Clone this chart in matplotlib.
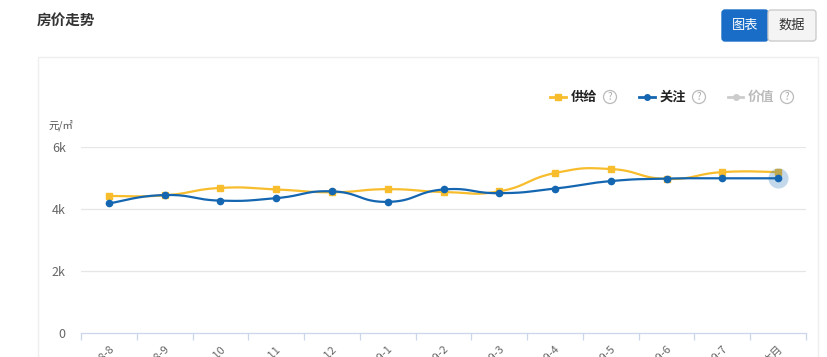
import numpy as np
import matplotlib
matplotlib.use("Agg")
import matplotlib.pyplot as plt
from matplotlib.patches import Rectangle, Circle, FancyBboxPatch

plt.rcParams['font.family'] = ['Noto Sans CJK SC', 'DejaVu Sans']

# ---- data ----
categories = ["2018-8", "2018-9", "2018-10", "2018-11", "2018-12", "2019-1", "2019-2",
              "2019-3", "2019-4", "2019-5", "2019-6", "2019-7", "本月"]
supply = [4420, 4440, 4680, 4630, 4540, 4640, 4550, 4570, 5160, 5290, 4970, 5190, 5190]
attention = [4180, 4450, 4270, 4350, 4570, 4230, 4630, 4510, 4660, 4900, 4980, 4990, 4990]
y_ticks = [0, 2000, 4000, 6000]
y_tick_labels = ["0", "2k", "4k", "6k"]
legend_names = ["供给", "关注", "价值"]

YELLOW = "#F8BD2C"
BLUE = "#1466B1"
GREY = "#CCCCCC"

W, H = 827, 357
fig = plt.figure(figsize=(W / 100, H / 100), dpi=100)

# overlay axes in pixel coordinates for decorations
ov = fig.add_axes([0, 0, 1, 1], zorder=0)
ov.set_xlim(0, W)
ov.set_ylim(H, 0)
ov.axis("off")

# panel box
ov.add_patch(Rectangle((38, 57), 780, 320, facecolor="white", edgecolor="#EEEEEE", lw=1))
# title
ov.text(37, 20, "房价走势", fontsize=10.5, fontweight="bold", color="#333333", va="center", ha="left")
# buttons
ov.add_patch(FancyBboxPatch((722, 10), 46, 31, boxstyle="round,pad=0,rounding_size=3",
                            facecolor="#1A6DC6", edgecolor="#1A6DC6", lw=1))
ov.add_patch(FancyBboxPatch((768, 10), 48, 31, boxstyle="round,pad=0,rounding_size=3",
                            facecolor="#F4F4F4", edgecolor="#CCCCCC", lw=1))
ov.text(745, 25.5, "图表", fontsize=9.5, color="white", ha="center", va="center")
ov.text(792, 25.5, "数据", fontsize=9.5, color="#333333", ha="center", va="center")

# legend
leg_items = [(550, 566, YELLOW, "s", legend_names[0], "#222222", "bold", 610),
             (639, 655, BLUE, "o", legend_names[1], "#222222", "bold", 699),
             (728, 743, GREY, "o", legend_names[2], "#BBBBBB", "bold", 787)]
ly = 97
for x0, x1, col, mk, name, tcol, fw, qx in leg_items:
    ov.plot([x0, x1], [ly, ly], color=col, lw=2)
    ov.plot([(x0 + x1) / 2], [ly], marker=mk, color=col, ms=4.5 if mk == "s" else 4)
    ov.text(x1 + 5, ly, name, fontsize=9.5, fontweight=fw, color=tcol, ha="left", va="center")
    ov.add_patch(Circle((qx, ly), 6.5, facecolor="none", edgecolor="#BBBBBB", lw=0.9))
    ov.text(qx, ly + 0.5, "?", fontsize=7, color="#AAAAAA", ha="center", va="center")

# unit label
ov.text(48, 125, "元/㎡", fontsize=7.5, color="#555555", ha="left", va="center")

# ---- main chart ----
left, right, bottom, top = 81, 806, 333, 147
ax = fig.add_axes([left / W, 1 - bottom / H, (right - left) / W, (bottom - top) / H], zorder=2)
ax.patch.set_alpha(0)
n = len(categories)
x = np.arange(n)
ax.set_xlim(-0.5, n - 0.5)
ax.set_ylim(0, 6000)


def smooth_curve(xs, ys, s=0.5, num=30):
    xs = np.asarray(xs, float)
    ys = np.asarray(ys, float)
    pts = np.column_stack([xs, ys])
    out = []
    m = len(pts)
    for i in range(m - 1):
        p0 = pts[i]
        p3 = pts[i + 1]
        prev = pts[i - 1] if i > 0 else pts[i]
        nxt2 = pts[i + 2] if i + 2 < m else pts[i + 1]
        c1 = p0 + (p3 - prev) * s / 2
        c2 = p3 - (nxt2 - p0) * s / 2
        t = np.linspace(0, 1, num)[:, None]
        seg = ((1 - t) ** 3) * p0 + 3 * ((1 - t) ** 2) * t * c1 + 3 * (1 - t) * t ** 2 * c2 + t ** 3 * p3
        out.append(seg if i == 0 else seg[1:])
    arr = np.vstack(out)
    return arr[:, 0], arr[:, 1]


for v in y_ticks[1:]:
    ax.axhline(v, color="#E6E6E6", lw=0.9, zorder=1)

sx, sy = smooth_curve(x, supply)
ax.plot(sx, sy, color=YELLOW, lw=1.6, zorder=3)
ax.plot(x, supply, ls="none", marker="s", ms=4.8, color=YELLOW, zorder=4)

bx, by = smooth_curve(x, attention)
ax.plot(bx, by, color=BLUE, lw=1.6, zorder=5)
ax.plot(x, attention, ls="none", marker="o", ms=4.5, color=BLUE, zorder=6)
ax.scatter([x[-1]], [attention[-1]], s=210, color=BLUE, alpha=0.25, zorder=7, linewidths=0)

ax.set_yticks(y_ticks)
ax.set_yticklabels(y_tick_labels, color="#666666", fontsize=9)
ax.tick_params(axis="y", length=0, pad=11)

ax.set_xticks(np.arange(n + 1) - 0.5, minor=False)
ax.set_xticklabels([])
ax.tick_params(axis="x", which="major", length=5, color="#CCD6EB", width=0.9)
ax.set_xticks(x, minor=True)
ax.set_xticklabels(categories, minor=True, rotation=45, ha="right", va="top",
                   rotation_mode="anchor", fontsize=8, color="#666666")
ax.tick_params(axis="x", which="minor", length=0, pad=8)

for sp in ["top", "right", "left"]:
    ax.spines[sp].set_visible(False)
ax.spines["bottom"].set_color("#CCD6EB")
ax.spines["bottom"].set_linewidth(0.9)

fig.savefig("out.png", dpi=100)
